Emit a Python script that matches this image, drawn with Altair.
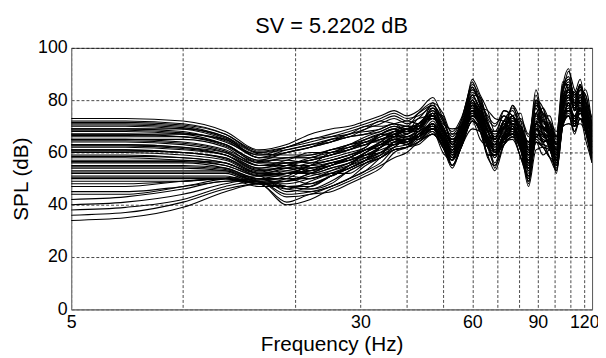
import altair as alt
import pandas as pd

FREQ = [5, 7, 10, 13, 16, 19, 22, 25, 28, 31, 34, 37, 40, 43, 47, 50, 53, 56, 60, 63,
        66, 69, 73, 77, 81, 85, 89, 93, 97, 101, 105, 109, 113, 117, 121, 126]

c01 = [73, 73, 72, 68, 61, 63, 67, 69, 70, 72, 74, 76, 74, 76, 81, 73, 64, 72, 85, 78, 68, 61, 72, 76, 67, 52, 80, 74, 67, 59, 85, 89, 81, 86, 77, 66]
c02 = [72, 72, 71, 67, 60, 62, 65, 67, 69, 71, 73, 75, 73, 74, 77, 69, 65, 68, 88, 82, 76, 68, 69, 78, 72, 61, 75, 77, 71, 63, 82, 91, 84, 82, 84, 70]
c03 = [71, 71, 70, 66, 60, 61, 63, 64, 66, 67, 69, 71, 68, 73, 74, 64, 57, 66, 82, 74, 64, 56, 67, 71, 63, 51, 71, 64, 65, 55, 80, 86, 76, 84, 72, 62]
c04 = [70, 70, 69, 65, 59, 60, 62, 65, 67, 69, 72, 71, 70, 75, 79, 75, 67, 72, 86, 81, 73, 70, 76, 74, 70, 64, 84, 74, 74, 66, 82, 84, 76, 79, 79, 73]
c05 = [69, 69, 69, 66, 58, 58, 58, 59, 61, 63, 65, 67, 69, 69, 75, 68, 61, 66, 80, 74, 66, 63, 69, 69, 65, 56, 69, 67, 63, 57, 75, 81, 79, 77, 77, 64]
c06 = [69, 69, 68, 64, 59, 62, 65, 66, 67, 70, 70, 71, 72, 71, 77, 71, 69, 70, 82, 77, 76, 73, 72, 71, 72, 66, 77, 69, 71, 66, 87, 84, 80, 86, 74, 66]
c07 = [68, 68, 67, 63, 57, 57, 56, 57, 59, 61, 62, 65, 65, 67, 71, 62, 61, 64, 76, 70, 62, 59, 67, 74, 65, 54, 71, 72, 65, 61, 80, 81, 72, 77, 70, 58]
c08 = [67, 67, 67, 65, 58, 60, 62, 64, 66, 67, 68, 70, 69, 71, 76, 70, 63, 70, 82, 76, 68, 65, 72, 74, 75, 61, 75, 72, 67, 63, 77, 84, 83, 88, 77, 64]
c09 = [67, 67, 66, 63, 56, 56, 54, 56, 57, 59, 62, 65, 63, 66, 71, 66, 55, 62, 78, 72, 59, 59, 65, 78, 67, 59, 75, 69, 61, 55, 75, 76, 74, 73, 72, 68]
c10 = [66, 66, 66, 63, 57, 60, 62, 64, 67, 68, 69, 71, 70, 69, 77, 72, 65, 68, 85, 78, 71, 68, 74, 71, 70, 64, 82, 72, 71, 66, 80, 86, 79, 84, 82, 68]
c11 = [65, 65, 65, 62, 55, 55, 53, 55, 58, 58, 60, 64, 65, 66, 69, 62, 57, 66, 74, 72, 66, 61, 63, 69, 61, 51, 66, 67, 65, 57, 72, 74, 68, 73, 70, 58]
c12 = [65, 65, 64, 61, 56, 58, 58, 61, 62, 65, 67, 67, 69, 69, 79, 68, 65, 70, 80, 74, 71, 65, 72, 71, 67, 64, 71, 72, 69, 63, 85, 92, 79, 82, 74, 68]
c13 = [64, 64, 63, 60, 54, 55, 55, 56, 57, 60, 63, 63, 65, 67, 69, 66, 59, 66, 76, 70, 66, 54, 67, 67, 65, 48, 69, 64, 58, 53, 77, 79, 72, 77, 68, 64]
c14 = [63, 63, 62, 60, 55, 57, 60, 60, 63, 64, 67, 69, 67, 71, 75, 74, 63, 70, 78, 76, 68, 68, 69, 71, 70, 61, 80, 77, 67, 66, 77, 84, 83, 79, 77, 62]
c15 = [63, 63, 62, 59, 53, 54, 52, 54, 56, 59, 60, 63, 65, 66, 71, 64, 57, 64, 76, 72, 62, 59, 67, 67, 61, 56, 66, 67, 61, 59, 75, 79, 74, 75, 72, 60]
c16 = [62, 62, 61, 59, 54, 56, 57, 59, 61, 64, 65, 67, 69, 71, 73, 70, 63, 68, 82, 81, 71, 65, 76, 74, 67, 64, 71, 69, 69, 66, 80, 81, 76, 86, 79, 66]
c17 = [61, 61, 60, 58, 52, 53, 52, 51, 55, 58, 62, 67, 65, 66, 69, 66, 59, 62, 74, 72, 64, 61, 65, 69, 65, 59, 75, 67, 65, 57, 72, 79, 70, 77, 70, 64]
c18 = [61, 61, 60, 58, 53, 55, 57, 59, 62, 63, 65, 67, 69, 69, 75, 68, 65, 68, 87, 78, 68, 68, 69, 74, 67, 61, 71, 77, 67, 63, 86, 86, 79, 84, 82, 70]
c19 = [60, 60, 59, 57, 52, 52, 52, 54, 56, 58, 60, 62, 63, 67, 71, 64, 61, 66, 78, 70, 64, 63, 65, 67, 63, 56, 66, 64, 65, 59, 72, 76, 74, 73, 70, 62]
c20 = [59, 59, 58, 56, 52, 54, 56, 58, 60, 62, 67, 66, 67, 71, 73, 70, 63, 70, 78, 74, 71, 65, 72, 71, 70, 61, 77, 69, 67, 61, 77, 81, 79, 79, 74, 64]
c21 = [58, 58, 57, 56, 51, 51, 50, 52, 52, 56, 59, 64, 63, 67, 69, 64, 55, 62, 72, 68, 59, 53, 63, 69, 61, 49, 64, 62, 61, 53, 70, 79, 70, 77, 68, 56]
c22 = [57, 57, 57, 55, 51, 53, 55, 57, 59, 61, 64, 68, 69, 71, 73, 68, 61, 68, 76, 72, 66, 65, 67, 71, 67, 64, 71, 69, 69, 63, 77, 84, 76, 82, 72, 70]
c23 = [56, 56, 56, 54, 50, 50, 48, 51, 54, 57, 62, 65, 66, 68, 71, 64, 61, 64, 78, 73, 64, 61, 67, 69, 63, 59, 69, 67, 63, 61, 75, 76, 74, 79, 72, 60]
c24 = [55, 55, 55, 54, 50, 52, 55, 60, 61, 64, 64, 66, 69, 68, 75, 68, 67, 68, 80, 74, 68, 68, 69, 74, 66, 56, 75, 69, 71, 63, 82, 81, 79, 86, 74, 66]
c25 = [54, 54, 54, 53, 49, 49, 51, 53, 55, 57, 59, 64, 65, 66, 71, 66, 59, 66, 77, 72, 64, 63, 65, 67, 65, 54, 71, 67, 63, 59, 75, 76, 72, 77, 70, 62]
c26 = [53, 53, 53, 53, 49, 51, 55, 57, 59, 62, 67, 69, 67, 71, 73, 70, 63, 70, 76, 76, 68, 65, 72, 71, 67, 61, 80, 69, 67, 61, 80, 84, 76, 82, 77, 64]
c27 = [52, 52, 52, 52, 48, 48, 50, 52, 54, 57, 62, 65, 63, 67, 69, 64, 57, 66, 74, 72, 59, 59, 67, 67, 58, 54, 66, 67, 63, 57, 70, 71, 70, 75, 68, 60]
c28 = [51, 51, 51, 51, 48, 50, 54, 55, 58, 61, 64, 68, 66, 69, 75, 67, 61, 68, 78, 76, 66, 63, 69, 74, 67, 59, 71, 72, 66, 61, 77, 81, 79, 79, 72, 68]
c29 = [50, 50, 50, 50, 47, 47, 47, 51, 54, 57, 59, 62, 65, 65, 69, 66, 59, 63, 72, 70, 66, 61, 65, 67, 70, 56, 66, 64, 65, 57, 72, 79, 72, 75, 72, 62]
c30 = [49, 49, 49, 50, 48, 49, 52, 55, 58, 61, 63, 66, 68, 68, 73, 68, 62, 66, 80, 74, 68, 63, 72, 70, 66, 60, 71, 69, 67, 61, 77, 85, 76, 77, 74, 66]
c31 = [48, 48, 49, 50, 48, 47, 46, 49, 53, 56, 58, 61, 62, 64, 67, 62, 54, 62, 69, 68, 62, 55, 63, 66, 61, 47, 61, 62, 61, 54, 70, 74, 67, 73, 65, 56]
c32 = [47, 47, 49, 50, 49, 46, 49, 52, 55, 60, 63, 65, 66, 66, 72, 66, 61, 64, 76, 70, 66, 60, 67, 70, 63, 59, 70, 64, 65, 61, 76, 76, 74, 78, 70, 64]
c33 = [45, 45, 47, 49, 50, 47, 46, 48, 53, 56, 58, 61, 62, 63, 67, 62, 55, 62, 72, 65, 62, 59, 63, 66, 58, 51, 64, 59, 61, 52, 70, 74, 70, 71, 68, 60]
c34 = [44, 44, 47, 50, 51, 45, 47, 51, 55, 60, 63, 66, 66, 68, 75, 68, 62, 70, 77, 73, 71, 64, 68, 70, 66, 64, 71, 68, 66, 66, 76, 80, 79, 79, 73, 68]
c35 = [42, 43, 46, 49, 49, 44, 45, 47, 50, 55, 58, 61, 62, 64, 68, 60, 57, 62, 72, 68, 58, 55, 63, 66, 61, 50, 64, 62, 58, 57, 70, 71, 70, 73, 68, 57]
c36 = [40, 41, 44, 48, 50, 46, 45, 47, 50, 53, 58, 62, 65, 65, 69, 64, 61, 66, 73, 69, 66, 60, 65, 70, 63, 55, 69, 63, 62, 62, 71, 76, 74, 77, 69, 62]
c37 = [38, 39, 42, 47, 49, 43, 44, 47, 50, 53, 56, 61, 62, 65, 69, 66, 58, 64, 76, 72, 63, 63, 64, 70, 62, 55, 66, 67, 62, 58, 72, 79, 71, 75, 72, 61]
c38 = [36, 37, 41, 46, 48, 40, 42, 46, 49, 52, 55, 58, 60, 64, 67, 63, 55, 63, 72, 69, 59, 59, 64, 65, 58, 50, 65, 62, 58, 55, 71, 74, 68, 73, 69, 58]
c39 = [34, 35, 39, 45, 48, 41, 44, 45, 48, 51, 54, 60, 62, 66, 68, 63, 58, 66, 73, 68, 66, 60, 63, 66, 62, 49, 64, 63, 62, 53, 70, 75, 71, 77, 68, 61]
d01 = [71.5, 71.5, 70.5, 67, 60.5, 62, 64, 66, 68, 70, 72, 74, 72, 75, 78, 72, 66, 71, 84, 80, 72, 66, 70, 77, 70, 58, 78, 75, 69, 60, 83, 88, 82, 85, 80, 68]
d02 = [70.5, 70.5, 69.5, 65.5, 59.5, 59, 59, 61, 63, 65, 67, 69, 70, 70, 74, 66, 60, 65, 79, 73, 65, 62, 66, 70, 64, 53, 68, 70, 64, 56, 78, 82, 77, 80, 75, 63]
d03 = [68.5, 68.5, 67.5, 64.5, 58, 61, 63, 65, 66, 69, 71, 73, 71, 73, 78, 73, 68, 73, 84, 79, 74, 71, 74, 72, 73, 67, 79, 75, 72, 68, 84, 88, 82, 85, 80, 71]
d04 = [66.5, 66.5, 66, 62.5, 56.5, 58, 59, 61, 63, 66, 68, 70, 68, 70, 74, 67, 60, 67, 79, 75, 69, 62, 70, 73, 68, 57, 73, 70, 66, 60, 79, 83, 77, 81, 76, 63]
d05 = [64.5, 64.5, 63.5, 60.5, 55, 56, 57, 59, 61, 63, 66, 68, 68, 70, 76, 69, 64, 69, 83, 79, 70, 66, 71, 72, 69, 62, 78, 73, 68, 64, 83, 87, 81, 85, 79, 67]
d06 = [62.5, 62.5, 61.5, 59, 53.5, 54, 54, 56, 58, 61, 63, 66, 64, 68, 70, 65, 58, 65, 75, 71, 63, 58, 66, 68, 64, 53, 67, 65, 63, 56, 74, 78, 73, 76, 71, 59]
d07 = [60.5, 60.5, 60, 57.5, 52.5, 55, 58, 60, 62, 64, 66, 68, 70, 70, 74, 69, 64, 69, 81, 77, 70, 67, 70, 73, 69, 63, 79, 71, 70, 65, 79, 83, 78, 81, 76, 67]
d08 = [58.5, 58.5, 58, 56, 51.5, 52, 53, 55, 57, 59, 62, 64, 64, 67, 70, 65, 60, 65, 75, 71, 65, 60, 66, 68, 64, 57, 69, 66, 64, 58, 73, 77, 73, 76, 71, 60]
d09 = [56.5, 56.5, 56.5, 55, 51, 52, 53, 56, 58, 61, 64, 67, 68, 70, 74, 69, 63, 68, 79, 75, 69, 66, 70, 72, 68, 62, 74, 70, 68, 63, 79, 82, 78, 80, 75, 67]
d10 = [54.5, 54.5, 54.5, 53.5, 49.5, 50, 50, 53, 56, 59, 61, 63, 64, 66, 70, 65, 60, 64, 74, 71, 63, 60, 66, 68, 63, 57, 67, 66, 64, 59, 73, 77, 72, 76, 70, 63]
d11 = [52.5, 52.5, 52.5, 52.5, 48.5, 49, 52, 55, 57, 60, 63, 66, 67, 69, 73, 68, 62, 67, 78, 74, 68, 64, 69, 71, 68, 60, 72, 70, 67, 62, 78, 82, 77, 79, 74, 65]
d12 = [50.5, 50.5, 50.5, 50.5, 48, 47, 48, 51, 54, 57, 60, 63, 64, 66, 70, 64, 58, 64, 74, 70, 63, 58, 65, 67, 64, 55, 67, 65, 63, 58, 73, 78, 72, 75, 70, 61]

CURVES = [c01, c02, c03, c04, c05, c06, c07, c08, c09, c10, c11, c12, c13,
          c14, c15, c16, c17, c18, c19, c20, c21, c22, c23, c24, c25, c26,
          c27, c28, c29, c30, c31, c32, c33, c34, c35, c36, c37, c38, c39,
          d01, d02, d03, d04, d05, d06, d07, d08, d09, d10, d11, d12]

GRID_X = [5, 10, 20, 30, 40, 50, 60, 70, 80, 90, 100, 110, 120]
LABEL_X = [5, 30, 60, 90, 120]
Y_TICKS = [0, 20, 40, 60, 80, 100]
TITLE = "SV = 5.2202 dB"

rows = []
for i, c in enumerate(CURVES):
    for f, v in zip(FREQ, c):
        rows.append({"curve": i, "f": f, "spl": v})
df = pd.DataFrame(rows)

label_list = "[" + ",".join(str(v) for v in LABEL_X) + "]"

chart = alt.Chart(df).mark_line(
    color="black", strokeWidth=1.1, interpolate="monotone", clip=True
).encode(
    x=alt.X("f:Q",
            scale=alt.Scale(type="log", domain=[5, 126], nice=False),
            axis=alt.Axis(values=GRID_X, title="Frequency (Hz)",
                          labelExpr=f"indexof({label_list}, datum.value) >= 0 ? '' + datum.value : ''",
                          labelPadding=4, titlePadding=3, labelFlush=False,
                          labelOverlap=False)),
    y=alt.Y("spl:Q",
            scale=alt.Scale(domain=[0, 100], nice=False),
            axis=alt.Axis(values=Y_TICKS, title="SPL (dB)", labelPadding=4,
                          titlePadding=6)),
    detail="curve:N",
).properties(
    width=528, height=265,
    title=alt.TitleParams(TITLE, fontSize=22, font="Liberation Sans",
                          fontWeight="normal", frame="group", anchor="middle",
                          offset=1, color="black"),
    autosize=alt.AutoSizeParams(type="none"),
    padding={"left": 64, "top": 38, "right": 6, "bottom": 52},
).configure_axis(
    labelFont="Liberation Sans", titleFont="Liberation Sans",
    labelFontSize=18, titleFontSize=21, titleFontWeight="normal",
    labelColor="black", titleColor="black",
    grid=True, gridColor="black", gridDash=[3, 2], gridWidth=0.8, gridOpacity=0.9,
    domainColor="#808080", domainWidth=1.2, ticks=False,
).configure_view(
    stroke="#555555", strokeWidth=1,
)

chart.save("out.html", embed_options={"renderer": "svg", "actions": False})
